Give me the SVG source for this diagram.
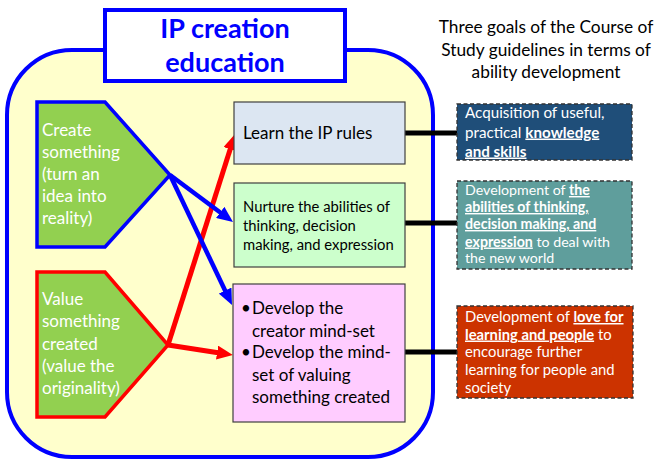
<svg xmlns="http://www.w3.org/2000/svg" width="657" height="462" viewBox="0 0 657 462">
  <style>
    text { font-family: Lato, "Liberation Sans", sans-serif; }
    .title { font-size: 27px; font-weight: bold; fill: #0000FF; text-anchor: middle; }
    .head { font-size: 17.3px; fill: #000000; text-anchor: middle; }
    .pent { fill: #92D050; stroke-width: 3.5; stroke-linejoin: miter; }
    .ptext { font-size: 17px; fill: #FFFFFF; }
    .box { stroke: #404040; stroke-width: 1.2; }
    .btext { font-size: 17px; fill: #000000; }
    .goal { stroke: #333333; stroke-width: 1.3; stroke-dasharray: 4 2.5; }
    .gtext { fill: #FFFFFF; }
    .u { font-weight: bold; text-decoration: underline; }
    .link { stroke: #000000; stroke-width: 5; }
    .blue { stroke: #0000FF; stroke-width: 4.5; fill: none; }
    .red { stroke: #FF0000; stroke-width: 5; fill: none; }
  </style>
  <defs>
    <marker id="headBlue" viewBox="0 0 16 14" refX="6" refY="7" markerWidth="16" markerHeight="14" markerUnits="userSpaceOnUse" orient="auto">
      <path d="M0,0 L16,7 L0,14 Z" fill="#0000FF"/>
    </marker>
    <marker id="headRed" viewBox="0 0 16 14" refX="6" refY="7" markerWidth="16" markerHeight="14" markerUnits="userSpaceOnUse" orient="auto">
      <path d="M0,0 L16,7 L0,14 Z" fill="#FF0000"/>
    </marker>
  </defs>

  <!-- outer frame -->
  <rect x="7" y="50" width="426" height="407" rx="65" ry="65" fill="#FFFFCC" stroke="#0000FF" stroke-width="4"/>

  <!-- title -->
  <g id="title">
    <rect x="105" y="10" width="240" height="71" fill="#FFFFFF" stroke="#0000FF" stroke-width="4"/>
    <text class="title" x="225" y="38">IP creation</text>
    <text class="title" x="225" y="72">education</text>
  </g>

  <!-- heading of goals column -->
  <g id="goals-heading">
    <text class="head" x="546" y="33">Three goals of the Course of</text>
    <text class="head" x="546" y="55.5">Study guidelines in terms of</text>
    <text class="head" x="546" y="78">ability development</text>
  </g>

  <!-- connectors -->
  <g id="connectors">
    <line class="link" x1="405" y1="133" x2="458" y2="133"/>
    <line class="link" x1="405" y1="223" x2="458" y2="223"/>
    <line class="link" x1="405" y1="352" x2="458" y2="352"/>
    <line class="red" x1="168" y1="345" x2="232" y2="143.5" marker-end="url(#headRed)"/>
    <line class="red" x1="168" y1="345" x2="223" y2="353.5" marker-end="url(#headRed)"/>
    <line class="blue" x1="170" y1="175" x2="225" y2="216" marker-end="url(#headBlue)"/>
    <line class="blue" x1="170" y1="175" x2="227.7" y2="296" marker-end="url(#headBlue)"/>
  </g>

  <!-- create pentagon -->
  <g id="create">
    <path class="pent" stroke="#0000FF" d="M37,102 L105,102 L170,175 L105,247 L37,247 Z"/>
    <text class="ptext" x="42" y="135.5">Create</text>
    <text class="ptext" x="42" y="157.5">something</text>
    <text class="ptext" x="42" y="179.5">(turn an</text>
    <text class="ptext" x="42" y="201.5">idea into</text>
    <text class="ptext" x="42" y="223.5">reality)</text>
  </g>

  <!-- value pentagon -->
  <g id="value">
    <path class="pent" stroke="#FF0000" d="M37,272 L105,272 L168,345 L105,417 L37,417 Z"/>
    <text class="ptext" x="42" y="305">Value</text>
    <text class="ptext" x="42" y="327">something</text>
    <text class="ptext" x="42" y="349.5">created</text>
    <text class="ptext" x="42" y="371.5">(value the</text>
    <text class="ptext" x="42" y="393.5">originality)</text>
  </g>

  <!-- learning boxes -->
  <g id="rules">
    <rect class="box" x="234" y="102" width="171" height="62" fill="#DCE6F2"/>
    <text class="btext" x="243" y="139">Learn the IP rules</text>
  </g>
  <g id="abilities">
    <rect class="box" x="234" y="183" width="171" height="84" fill="#CCFFCC"/>
    <text class="btext" x="243" y="211.5" style="font-size:14.8px">Nurture the abilities of</text>
    <text class="btext" x="243" y="230.5" style="font-size:14.8px">thinking, decision</text>
    <text class="btext" x="243" y="249.5" style="font-size:14.8px">making, and expression</text>
  </g>
  <g id="mindset">
    <rect class="box" x="233" y="284" width="172" height="138" fill="#FFCCFF"/>
    <text class="btext" x="241" y="314">•</text>
    <text class="btext" x="252" y="314">Develop the</text>
    <text class="btext" x="252" y="336.5">creator mind-set</text>
    <text class="btext" x="241" y="358">•</text>
    <text class="btext" x="252" y="358">Develop the mind-</text>
    <text class="btext" x="252" y="380.5">set of valuing</text>
    <text class="btext" x="252" y="403">something created</text>
  </g>

  <!-- goal boxes -->
  <g id="goal-knowledge">
    <rect class="goal" x="457" y="104" width="175" height="56" fill="#1F4E79"/>
    <text class="gtext" x="465" y="118" style="font-size:15.2px">Acquisition of useful,</text>
    <text class="gtext" x="465" y="137.5" style="font-size:15.2px">practical <tspan class="u">knowledge</tspan></text>
    <text class="gtext" x="465" y="156.5" style="font-size:15.2px"><tspan class="u">and skills</tspan></text>
  </g>
  <g id="goal-thinking">
    <rect class="goal" x="457" y="181" width="175" height="88" fill="#5F9E9C"/>
    <text class="gtext" x="465" y="195" style="font-size:14.2px">Development of <tspan class="u">the</tspan></text>
    <text class="gtext" x="465" y="212" style="font-size:14.2px"><tspan class="u">abilities of thinking,</tspan></text>
    <text class="gtext" x="465" y="229" style="font-size:14.2px"><tspan class="u">decision making, and</tspan></text>
    <text class="gtext" x="465" y="246.5" style="font-size:14.2px"><tspan class="u">expression</tspan> to deal with</text>
    <text class="gtext" x="465" y="263" style="font-size:14.2px">the new world</text>
  </g>
  <g id="goal-love">
    <rect class="goal" x="457" y="306" width="176" height="92" fill="#CC3300"/>
    <text class="gtext" x="465" y="322" style="font-size:14.8px">Development of <tspan class="u">love for</tspan></text>
    <text class="gtext" x="465" y="339.5" style="font-size:14.8px"><tspan class="u">learning and people</tspan> to</text>
    <text class="gtext" x="465" y="357" style="font-size:14.8px">encourage further</text>
    <text class="gtext" x="465" y="375" style="font-size:14.8px">learning for people and</text>
    <text class="gtext" x="465" y="393" style="font-size:14.8px">society</text>
  </g>
</svg>
